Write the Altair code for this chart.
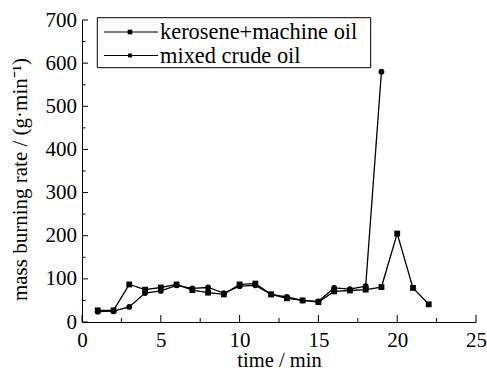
import altair as alt
import pandas as pd

# Burning-rate measurements, one value per minute
time_kerosene = list(range(1, 23))
kerosene_rate = [27, 27, 87, 75, 80, 87, 74, 68, 64, 87, 89, 64, 55, 50, 46,
                 71, 73, 75, 81, 205, 79, 41]
time_crude = list(range(1, 20))
crude_rate = [24, 25, 35, 67, 72, 85, 78, 80, 67, 83, 85, 64, 58, 50, 48,
              79, 76, 83, 580]

series_names = ["kerosene+machine oil", "mixed crude oil"]
series_shapes = ["square", "circle"]

x_major = [0, 5, 10, 15, 20, 25]
x_minor = [2.5, 7.5, 12.5, 17.5, 22.5]
y_major = list(range(0, 701, 100))
y_minor = list(range(50, 701, 100))

W, H = 394, 302
FONT = "Liberation Serif"

df = pd.concat([
    pd.DataFrame({"time": time_kerosene, "rate": kerosene_rate, "series": series_names[0]}),
    pd.DataFrame({"time": time_crude, "rate": crude_rate, "series": series_names[1]}),
])

x_scale = alt.Scale(domain=[0, 25], nice=False, zero=False)
y_scale = alt.Scale(domain=[0, 700], nice=False)

x_enc = alt.X("time:Q", scale=x_scale, title="time / min",
              axis=alt.Axis(values=x_major, ticks=False, grid=False, labelFlush=False,
                            labelFont=FONT, labelFontSize=21, labelPadding=7,
                            titleFont=FONT, titleFontSize=20.5,
                            domainColor="black", domainWidth=1,
                            titleY=44, titleBaseline="alphabetic"))
y_enc = alt.Y("rate:Q", scale=y_scale, title="mass burning rate / (g·min⁻¹)",
              axis=alt.Axis(values=y_major, ticks=False, grid=False, labelPadding=5.5,
                            labelFont=FONT, labelFontSize=21,
                            titleFont=FONT, titleFontSize=21,
                            domainColor="black", domainWidth=1,
                            titleX=-62, titleY=159, titleAngle=-90,
                            titleAlign="center", titleBaseline="middle"))

lines = alt.Chart(df).mark_line(color="black", strokeWidth=1.3).encode(
    x=x_enc, y=y_enc, detail="series:N", order="time:Q")

points = alt.Chart(df).mark_point(filled=True, color="black", opacity=1, size=34).encode(
    x="time:Q", y="rate:Q",
    shape=alt.Shape("series:N", scale=alt.Scale(domain=series_names, range=series_shapes),
                    legend=None))

# inward axis ticks
def xticks(vals, length):
    return alt.Chart(pd.DataFrame({"t": vals})).mark_rule(color="black", strokeWidth=1).encode(
        x=alt.X("t:Q", scale=x_scale), y=alt.value(H - length), y2=alt.value(H))

def yticks(vals, length):
    return alt.Chart(pd.DataFrame({"v": vals})).mark_rule(color="black", strokeWidth=1).encode(
        y=alt.Y("v:Q", scale=y_scale), x=alt.value(0), x2=alt.value(length))

one = alt.Data(values=[{}])

# legend
legend_box = alt.Chart(one).mark_rect(fill=None, stroke="black", strokeWidth=1).encode(
    x=alt.value(15.3), x2=alt.value(288.7), y=alt.value(-2.3), y2=alt.value(47.7))

legend_items = []
for i, (name, shape) in enumerate(zip(series_names, series_shapes)):
    yy = 12 + i * 23.5
    legend_items.append(alt.Chart(one).mark_rule(color="black", strokeWidth=1.2).encode(
        x=alt.value(22), x2=alt.value(76), y=alt.value(yy)))
    legend_items.append(alt.Chart(one).mark_point(filled=True, color="black", opacity=1,
                                                  shape=shape, size=22).encode(
        x=alt.value(48), y=alt.value(yy)))
    legend_items.append(alt.Chart(one).mark_text(text=name, font=FONT, fontSize=22.4,
                                                 align="left", baseline="middle",
                                                 color="black").encode(
        x=alt.value(78), y=alt.value(yy)))

chart = alt.layer(
    lines, points,
    xticks(x_major, 7), xticks(x_minor, 4),
    yticks(y_major, 6), yticks(y_minor, 3.5),
    legend_box, *legend_items,
).properties(
    width=W, height=H,
    autosize=alt.AutoSizeParams(type="none"),
    padding={"left": 82, "top": 20, "right": 11, "bottom": 50},
).configure(
    background="white",
    axis=alt.AxisConfig(
        labelFont=FONT, titleFont=FONT,
        labelColor="black", titleColor="black", titleFontWeight="normal",
    ),
    view=alt.ViewConfig(stroke=None),
)

chart.save("out.html", embed_options={"renderer": "svg", "actions": False})
